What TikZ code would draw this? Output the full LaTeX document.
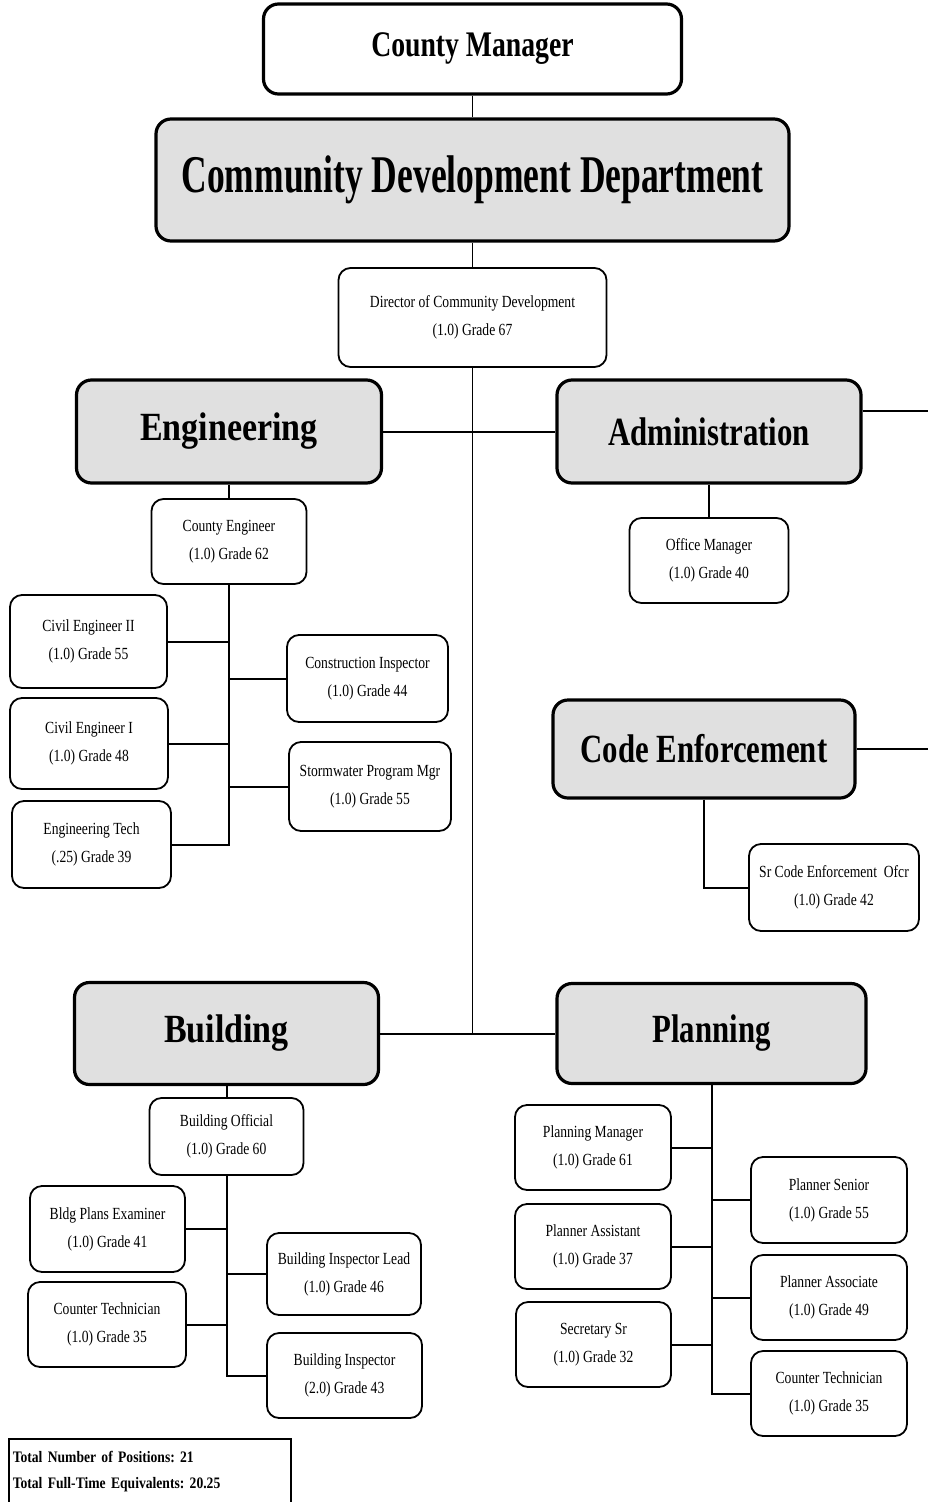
\documentclass[tikz,border=0pt]{standalone}
\usepackage{fontspec}
\setmainfont{Liberation Serif}
\newfontfamily\chartfont[FakeStretch=0.8]{Liberation Serif}
\newfontfamily\sumfont[FakeStretch=0.85]{Liberation Serif}
\newfontfamily\headfont[FakeStretch=0.77]{Liberation Serif}
\newfontfamily\titlefont[FakeStretch=0.67]{Liberation Serif}
\definecolor{deptgray}{RGB}{224,224,224}
\def\totalsfont{\sumfont\bfseries\fontsize{16}{26}\selectfont\frenchspacing\spaceskip 3.6pt\relax}

\begin{document}
\begin{tikzpicture}[x=1pt, y=-1pt,
    post/.style={draw, rounded corners=12pt, line width=1.8pt, fill=white, align=center, inner sep=0pt,
      font=\chartfont\fontsize{17}{28}\selectfont},
    dept/.style={draw, rounded corners=15pt, line width=3.2pt, fill=deptgray, inner sep=0pt,
      font=\headfont\bfseries\fontsize{40}{40}\selectfont},
    wh/.style 2 args={minimum width=#1, minimum height=#2},
    link/.style={line width=2pt},
    feed/.style={line width=1.2pt}]
  \useasboundingbox (0,0) rectangle (928,1502);

  \node[dept, fill=white, font=\headfont\bfseries\fontsize{36}{36}\selectfont, wh={418pt}{90pt}] (cm) at (472.5,49) {County Manager};
  \node[dept, font=\titlefont\bfseries\fontsize{53}{53}\selectfont, wh={633pt}{122pt}] (cdd) at (472.5,180) {Community Development Department};
  \node[post, wh={268pt}{99pt}] (dir) at (472.5,317.5) {Director of Community Development\\(1.0) Grade 67};

  \node[dept, font=\sumfont\bfseries\fontsize{40}{40}\selectfont, wh={305pt}{103pt}] (eng) at (229,431.5) {Engineering};
  \node[post, wh={155pt}{85pt}] (ce) at (229,541.5) {County Engineer\\(1.0) Grade 62};
  \node[post, wh={157pt}{93pt}] (ce2) at (88.5,641.5) {Civil Engineer II\\(1.0) Grade 55};
  \node[post, wh={161pt}{87pt}] (ci) at (367.5,678.5) {Construction Inspector\\(1.0) Grade 44};
  \node[post, wh={158pt}{91pt}] (ce1) at (89,743.5) {Civil Engineer I\\(1.0) Grade 48};
  \node[post, wh={162pt}{89pt}] (swm) at (370,786.5) {Stormwater Program Mgr\\(1.0) Grade 55};
  \node[post, wh={159pt}{87pt}] (et) at (91.5,844.5) {Engineering Tech\\(.25) Grade 39};

  \node[dept, wh={304pt}{103pt}] (adm) at (709,431.5) {Administration};
  \node[post, wh={159pt}{85pt}] (om) at (709,560.5) {Office Manager\\(1.0) Grade 40};

  \node[dept, wh={302pt}{98pt}] (code) at (704,749) {Code Enforcement};
  \node[post, wh={170pt}{87pt}] (sco) at (834,887.5) {Sr Code Enforcement~ Ofcr\\(1.0) Grade 42};

  \node[dept, font=\sumfont\bfseries\fontsize{40}{40}\selectfont, wh={304pt}{102pt}] (bld) at (226.5,1033.5) {Building};
  \node[post, wh={154pt}{77pt}] (bo) at (226.5,1136.5) {Building Official\\(1.0) Grade 60};
  \node[post, wh={155pt}{86pt}] (bpe) at (107.5,1229) {Bldg Plans Examiner\\(1.0) Grade 41};
  \node[post, wh={154pt}{82pt}] (bil) at (344,1274) {Building Inspector Lead\\(1.0) Grade 46};
  \node[post, wh={158pt}{85pt}] (ctb) at (107,1324.5) {Counter Technician\\(1.0) Grade 35};
  \node[post, wh={155pt}{85pt}] (bi) at (344.5,1375.5) {Building Inspector\\(2.0) Grade 43};

  \node[dept, wh={309pt}{100pt}] (pln) at (711.5,1033.5) {Planning};
  \node[post, wh={156pt}{85pt}] (pm) at (593,1147.5) {Planning Manager\\(1.0) Grade 61};
  \node[post, wh={156pt}{86pt}] (ps) at (829,1200) {Planner Senior\\(1.0) Grade 55};
  \node[post, wh={156pt}{85pt}] (pa) at (593,1246.5) {Planner Assistant\\(1.0) Grade 37};
  \node[post, wh={156pt}{85pt}] (pas) at (829,1297.5) {Planner Associate\\(1.0) Grade 49};
  \node[post, wh={155pt}{85pt}] (ss) at (593.5,1344.5) {Secretary Sr\\(1.0) Grade 32};
  \node[post, wh={156pt}{85pt}] (ctp) at (829,1393.5) {Counter Technician\\(1.0) Grade 35};

  \node[draw, line width=1.5pt, anchor=north west, align=left, text width=274pt, inner xsep=4pt, inner ysep=12pt,
    font=\totalsfont] (tot) at (8,1438)
    {Total Number of Positions: 21\\Total Full-Time Equivalents: 20.25};

  \coordinate (hub) at (472.5,1033.5);
  \coordinate (admout) at (940,411);
  \coordinate (codeout) at (940,749);

  \draw[feed] (cm) -- (cdd) (cdd) -- (dir) (dir) -- (hub);
  \draw[link] (eng) -- (adm);
  \draw[link] (admout -| adm.east) -- (admout);
  \draw[link] (adm) -- (om);
  \draw[link] (code) -- (codeout);
  \draw[link] (code.south) |- (sco);

  \draw[link] (eng) -- (ce);
  \draw[link] (ce) |- (et);
  \foreach \p in {ce2,ci,ce1,swm}{
    \draw[link] (\p) -- (\p -| ce);
  }

  \draw[link] (bld) -- (hub) -- (pln);
  \draw[link] (bld) -- (bo);
  \draw[link] (bo) |- (bi);
  \foreach \p in {bpe,bil,ctb}{
    \draw[link] (\p) -- (\p -| bo);
  }

  \draw[link] (pln) |- (ctp);
  \foreach \p in {pm,ps,pa,pas,ss}{
    \draw[link] (\p) -- (\p -| pln);
  }
\end{tikzpicture}
\end{document}
